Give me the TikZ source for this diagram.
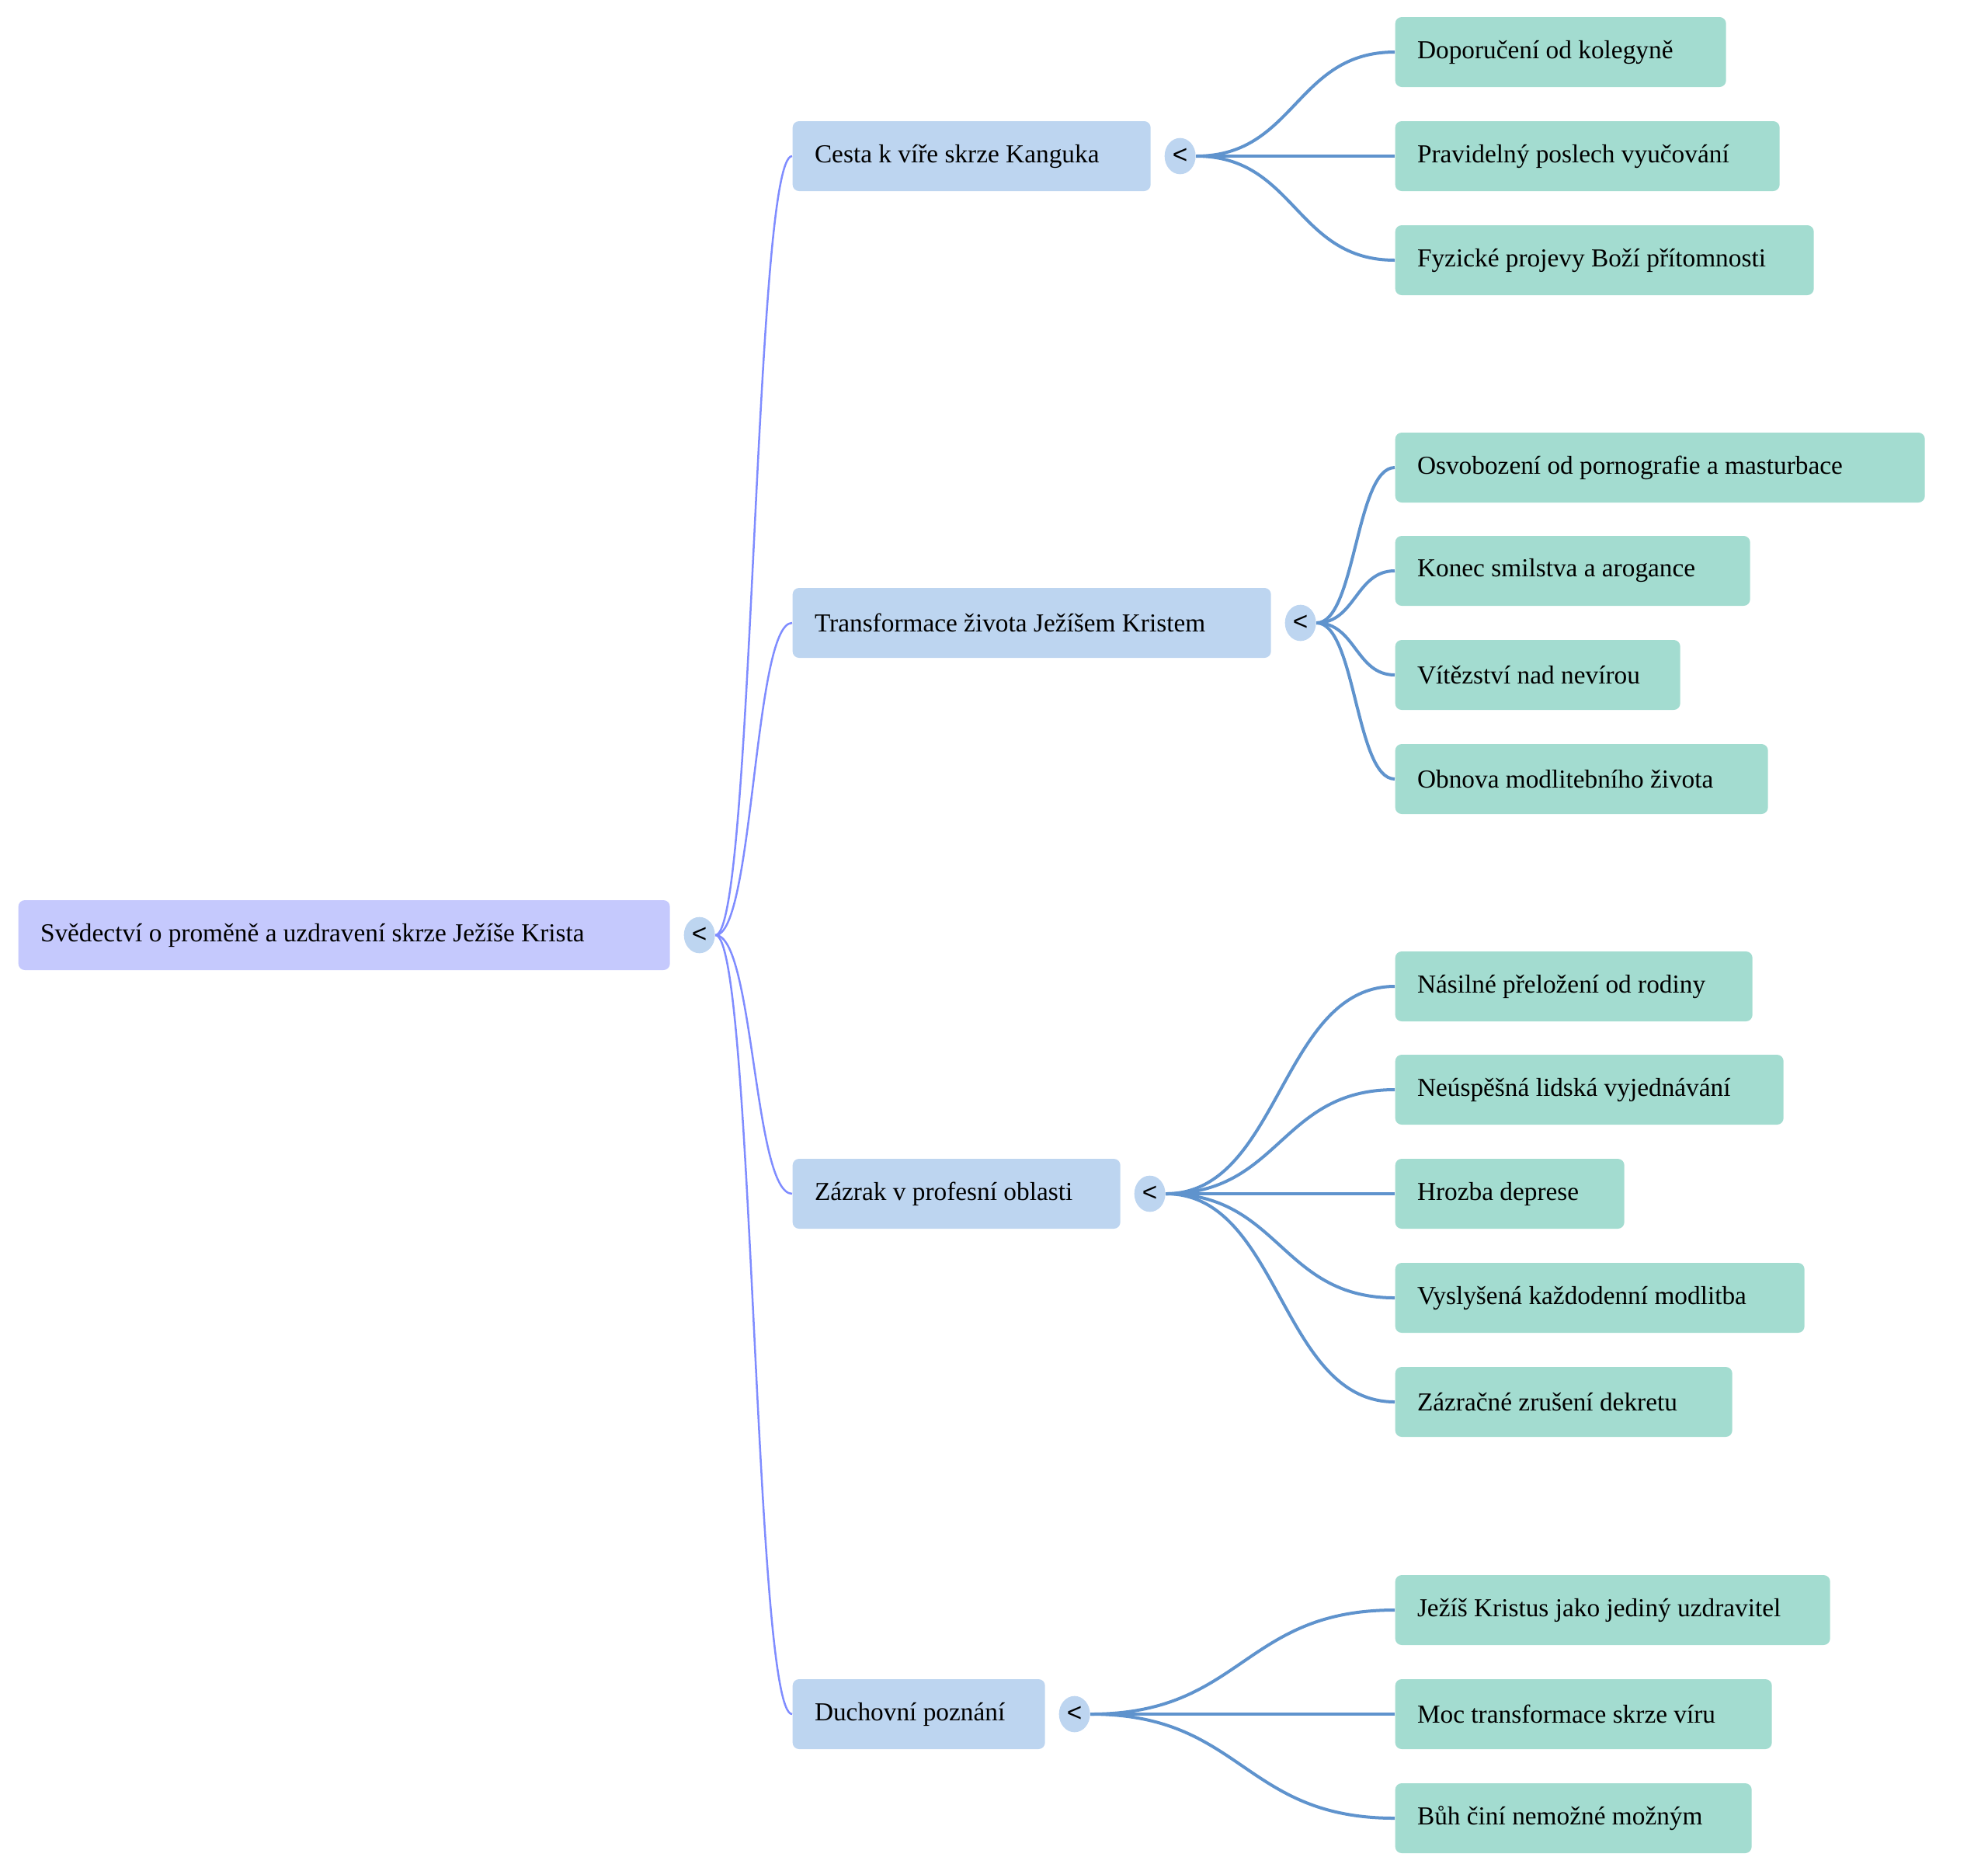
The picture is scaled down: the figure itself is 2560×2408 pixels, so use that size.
\documentclass[tikz,border=0pt]{standalone}
\usepackage{fontspec}
\setmainfont{Liberation Serif}
\setsansfont{Liberation Sans}
\usetikzlibrary{positioning,calc,shapes.geometric}

\definecolor{rootfill}{HTML}{C5C9FD}
\definecolor{topicfill}{HTML}{BDD5F0}
\definecolor{leaffill}{HTML}{A3DCD0}
\definecolor{rootline}{HTML}{7F8CFF}
\definecolor{topicline}{HTML}{5F93CD}

\begin{document}
\begin{tikzpicture}[x=0.3pt,y=-0.3pt,
  box/.style={rectangle,rounded corners=2.5pt,anchor=west,minimum height=27pt,
    inner xsep=8.5pt,text width=#1,align=flush left,font=\fontsize{10}{12}\selectfont},
  rootbox/.style={box=#1,fill=rootfill},
  topicbox/.style={box=#1,fill=topicfill},
  leafbox/.style={box=#1,fill=leaffill},
  dotnode/.style={ellipse,fill=topicfill,minimum width=12pt,minimum height=14pt,
    inner sep=0pt,font=\sffamily\fontsize{10}{10}\selectfont,right=5pt of #1},
  sbend/.style={to path={.. controls ($(\tikztostart)!0.5!(\tikztostart -| \tikztotarget)$)
    and ($(\tikztotarget)!0.5!(\tikztotarget -| \tikztostart)$) .. (\tikztotarget)}},
  rootlink/.style={sbend,draw=rootline,line width=0.75pt},
  topiclink/.style={sbend,draw=topicline,line width=1.2pt}]
  \useasboundingbox (0,0) rectangle (2560,2408);

  % root
  \node[rootbox=234.7pt] (root) at (23,1204) {Svědectví o proměně a uzdravení skrze Ježíše Krista};
  \node[dotnode=root] (rootdot) {<};

  % topics
  \node[topicbox=121.3pt] (cesta) at (1020,201) {Cesta k víře skrze Kanguka};
  \node[topicbox=167.8pt] (transf) at (1020,802) {Transformace života Ježíšem Kristem};
  \node[topicbox=109.6pt] (zazrak) at (1020,1537) {Zázrak v profesní oblasti};
  \node[topicbox=80.5pt] (duch) at (1020,2207) {Duchovní poznání};
  \node[dotnode=cesta] (cestadot) {<};
  \node[dotnode=transf] (transfdot) {<};
  \node[dotnode=zazrak] (zazrakdot) {<};
  \node[dotnode=duch] (duchdot) {<};

  \draw[rootlink] (rootdot.east) to (cesta.west);
  \draw[rootlink] (rootdot.east) to (transf.west);
  \draw[rootlink] (rootdot.east) to (zazrak.west);
  \draw[rootlink] (rootdot.east) to (duch.west);

  % leaves of Cesta
  \node[leafbox=110.8pt] (doporuceni) at (1796,67) {Doporučení od kolegyně};
  \node[leafbox=131.5pt] (poslech) at (1796,201) {Pravidelný poslech vyučování};
  \node[leafbox=144.7pt] (projevy) at (1796,335) {Fyzické projevy Boží přítomnosti};
  \draw[topiclink] (cestadot.east) to (doporuceni.west);
  \draw[topiclink] (cestadot.east) to (poslech.west);
  \draw[topiclink] (cestadot.east) to (projevy.west);

  % leaves of Transformace
  \node[leafbox=187.6pt] (osvobozeni) at (1796,602) {Osvobození od pornografie a masturbace};
  \node[leafbox=120.1pt] (konec) at (1796,735) {Konec smilstva a arogance};
  \node[leafbox=93.1pt] (vitezstvi) at (1796,869) {Vítězství nad nevírou};
  \node[leafbox=127pt] (obnova) at (1796,1003) {Obnova modlitebního života};
  \draw[topiclink] (transfdot.east) to (osvobozeni.west);
  \draw[topiclink] (transfdot.east) to (konec.west);
  \draw[topiclink] (transfdot.east) to (vitezstvi.west);
  \draw[topiclink] (transfdot.east) to (obnova.west);

  % leaves of Zazrak
  \node[leafbox=121pt] (prelozeni) at (1796,1270) {Násilné přeložení od rodiny};
  \node[leafbox=133pt] (vyjednavani) at (1796,1403) {Neúspěšná lidská vyjednávání};
  \node[leafbox=71.5pt] (deprese) at (1796,1537) {Hrozba deprese};
  \node[leafbox=141.1pt] (modlitba) at (1796,1671) {Vyslyšená každodenní modlitba};
  \node[leafbox=113.2pt] (dekret) at (1796,1805) {Zázračné zrušení dekretu};
  \draw[topiclink] (zazrakdot.east) to (prelozeni.west);
  \draw[topiclink] (zazrakdot.east) to (vyjednavani.west);
  \draw[topiclink] (zazrakdot.east) to (deprese.west);
  \draw[topiclink] (zazrakdot.east) to (modlitba.west);
  \draw[topiclink] (zazrakdot.east) to (dekret.west);

  % leaves of Duchovni
  \node[leafbox=151pt] (uzdravitel) at (1796,2073) {Ježíš Kristus jako jediný uzdravitel};
  \node[leafbox=128.5pt] (moc) at (1796,2207) {Moc transformace skrze víru};
  \node[leafbox=120.7pt] (buh) at (1796,2341) {Bůh činí nemožné možným};
  \draw[topiclink] (duchdot.east) to (uzdravitel.west);
  \draw[topiclink] (duchdot.east) to (moc.west);
  \draw[topiclink] (duchdot.east) to (buh.west);
\end{tikzpicture}
\end{document}
